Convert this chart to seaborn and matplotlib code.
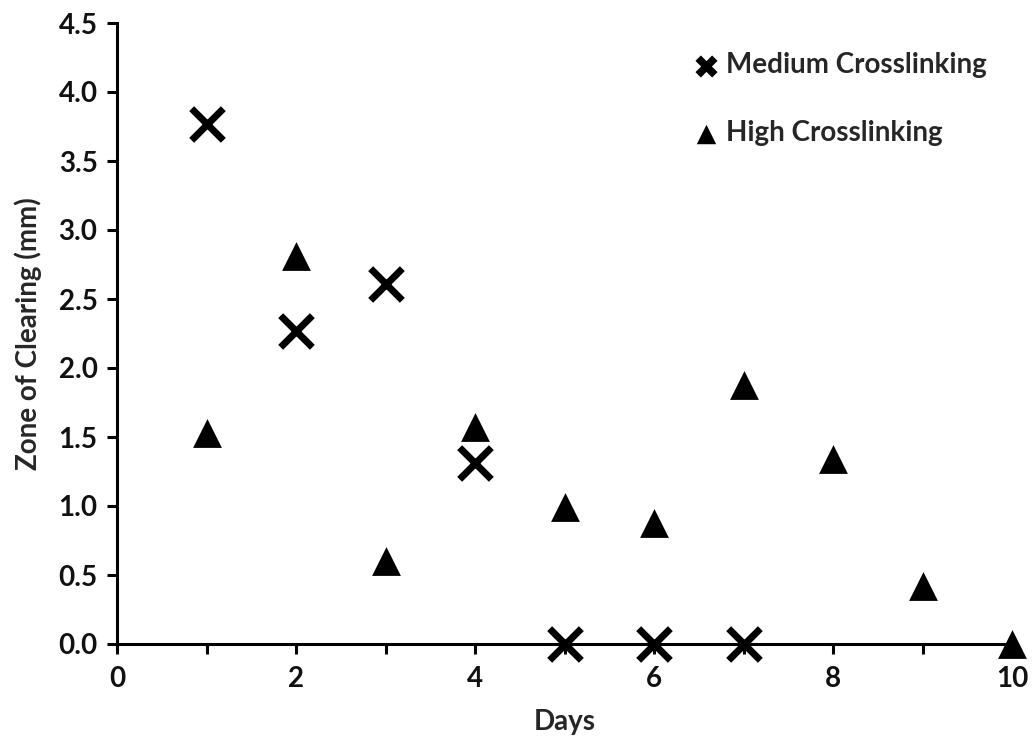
import matplotlib
matplotlib.use("Agg")
import matplotlib.pyplot as plt
import seaborn as sns
import pandas as pd
from matplotlib.ticker import MultipleLocator

# Zone of clearing measurements per day for two crosslinking levels
medium_days = [1, 2, 3, 4, 5, 6, 7]
medium_zone = [3.77, 2.27, 2.61, 1.31, 0.0, 0.0, 0.0]

high_days = [1, 2, 3, 4, 5, 6, 7, 8, 9, 10]
high_zone = [1.53, 2.81, 0.60, 1.57, 0.99, 0.88, 1.88, 1.34, 0.42, 0.0]

x_ticks = [0, 2, 4, 6, 8, 10]
y_ticks = [0.0, 0.5, 1.0, 1.5, 2.0, 2.5, 3.0, 3.5, 4.0, 4.5]

sns.set_style("ticks")
plt.rcParams["font.family"] = ["Lato", "DejaVu Sans"]
plt.rcParams["font.weight"] = "bold"

medium = pd.DataFrame({"Days": medium_days, "Zone": medium_zone})
high = pd.DataFrame({"Days": high_days, "Zone": high_zone})

fig = plt.figure(figsize=(10.34, 7.45), dpi=100)
ax = fig.add_axes([117 / 1034, 1 - 644 / 745, (1012 - 117) / 1034, (644 - 23) / 745])

sns.scatterplot(data=medium, x="Days", y="Zone", marker="x", s=520, color="black",
                linewidth=5, label="Medium Crosslinking", ax=ax, clip_on=False, zorder=3)
sns.scatterplot(data=high, x="Days", y="Zone", marker="^", s=430, color="black",
                edgecolor="black", linewidth=0, label="High Crosslinking", ax=ax,
                clip_on=False, zorder=3)

ax.set_xlim(0, 10)
ax.set_ylim(0, 4.5)
ax.set_xticks(x_ticks)
ax.xaxis.set_minor_locator(MultipleLocator(1))
ax.set_yticks(y_ticks)
ax.set_yticklabels([f"{v:.1f}" for v in y_ticks])

for side in ("top", "right"):
    ax.spines[side].set_visible(False)
for side in ("left", "bottom"):
    ax.spines[side].set_linewidth(2.2)
    ax.spines[side].set_color("black")

ax.tick_params(axis="both", which="both", direction="out", width=2.2, length=7,
               color="black", labelsize=20, labelcolor="#111111")
ax.tick_params(axis="x", which="major", pad=9)
ax.tick_params(axis="y", which="major", pad=7)

ax.set_xlabel("Days", fontsize=20, fontweight="bold", labelpad=12)
ax.set_ylabel("Zone of Clearing (mm)", fontsize=20, fontweight="bold", labelpad=12)

leg = ax.legend(loc="upper left", bbox_to_anchor=(0.615, 0.993), frameon=False,
                fontsize=20, labelspacing=1.5, handletextpad=0.2,
                handlelength=1.0)
for h, size, lw in zip(leg.legend_handles, (12, 14), (5.5, 0)):
    h.set_color("black")
    h.set_sizes([size ** 2])
    h.set_linewidth(lw)

fig.savefig("out.png", dpi=100)
